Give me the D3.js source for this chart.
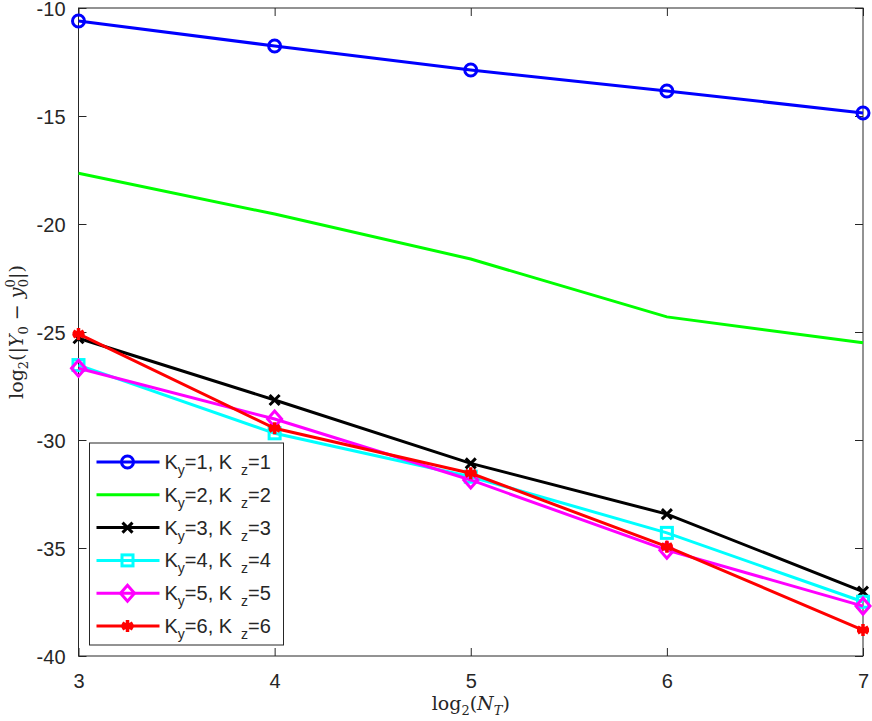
<!DOCTYPE html>
<meta charset="utf-8">
<style>
body { margin: 0; background: #fff; }
svg text { fill: #262626; }
.sans { font-family: "Liberation Sans", Arial, sans-serif; }
.tex { font-family: "DejaVu Serif", "Liberation Serif", serif; }
.axis path, .axis line { stroke: #262626; stroke-width: 1; }
.axis text { font-family: "Liberation Sans", Arial, sans-serif; font-size: 20px; }
.line { fill: none; stroke-width: 3; }
</style>
<body></body>
<script src="https://d3js.org/d3.v7.min.js"></script>
<script>
// x values: log2(N_T)
var xs = [3, 4, 5, 6, 7];
var seriesNames = ["1", "2", "3", "4", "5", "6"];
var seriesColors = ["#0000ff", "#00ff00", "#000000", "#00ffff", "#ff00ff", "#ff0000"];
var seriesMarkers = ["circle", "none", "x", "square", "diamond", "asterisk"];
var k1 = [-10.6, -11.76, -12.87, -13.84, -14.86];
var k2 = [-17.65, -19.54, -21.62, -24.3, -25.5];
var k3 = [-25.29, -28.15, -31.08, -33.43, -37.02];
var k4 = [-26.53, -29.69, -31.7, -34.3, -37.49];
var k5 = [-26.68, -29.03, -31.85, -35.1, -37.69];
var k6 = [-25.09, -29.46, -31.54, -34.94, -38.8];
var allSeries = [k1, k2, k3, k4, k5, k6];
var xTicks = [3, 4, 5, 6, 7];
var yTicks = [-10, -15, -20, -25, -30, -35, -40];

var W = 872, H = 721;
var margin = {top: 8, right: 9, bottom: 65, left: 78.5};
var w = W - margin.left - margin.right, h = H - margin.top - margin.bottom;

var svg = d3.select("body").append("svg").attr("width", W).attr("height", H);
var g = svg.append("g").attr("transform", "translate(" + margin.left + "," + margin.top + ")");

var x = d3.scaleLinear().domain([3, 7]).range([0, w]);
var y = d3.scaleLinear().domain([-40, -10]).range([h, 0]);
var fmt = function(d) { return String(d); }; // plain hyphen like MATLAB

// box + axes
g.append("rect").attr("width", w).attr("height", h).attr("fill", "none").attr("stroke", "#262626");
g.append("g").attr("class", "axis").attr("transform", "translate(0," + h + ")")
  .call(d3.axisBottom(x).tickValues(xTicks).tickSize(-8).tickPadding(18).tickFormat(fmt))
  .call(function(a) { a.select(".domain").remove(); });
g.append("g").attr("class", "axis")
  .call(d3.axisTop(x).tickValues(xTicks).tickSize(-8).tickFormat(""))
  .call(function(a) { a.select(".domain").remove(); });
g.append("g").attr("class", "axis")
  .call(d3.axisLeft(y).tickValues(yTicks).tickSize(-8).tickPadding(13).tickFormat(fmt))
  .call(function(a) { a.select(".domain").remove(); a.selectAll("text").attr("dy", "0.36em"); });
g.append("g").attr("class", "axis").attr("transform", "translate(" + w + ",0)")
  .call(d3.axisRight(y).tickValues(yTicks).tickSize(-8).tickFormat(""))
  .call(function(a) { a.select(".domain").remove(); });

function drawMarker(sel, type, color) {
  if (type == "circle") sel.append("circle").attr("r", 6).attr("fill", "none").attr("stroke", color).attr("stroke-width", 3);
  else if (type == "square") sel.append("rect").attr("x", -5.5).attr("y", -5.5).attr("width", 11).attr("height", 11).attr("fill", "none").attr("stroke", color).attr("stroke-width", 3);
  else if (type == "diamond") sel.append("path").attr("d", "M0,-8L7,0L0,8L-7,0Z").attr("fill", "none").attr("stroke", color).attr("stroke-width", 3);
  else if (type == "x") sel.append("path").attr("d", "M-5,-5L5,5M-5,5L5,-5").attr("stroke", color).attr("stroke-width", 3);
  else if (type == "asterisk") sel.append("path").attr("d", "M0,-6L0,6M-5.2,-3L5.2,3M-5.2,3L5.2,-3M-6,0L6,0").attr("stroke", color).attr("stroke-width", 3.5);
}

var line = d3.line().x(function(d) { return x(d.x); }).y(function(d) { return y(d.y); });

allSeries.forEach(function(vals, i) {
  var pts = xs.map(function(xv, j) { return {x: xv, y: vals[j]}; });
  g.append("path").datum(pts).attr("class", "line").attr("stroke", seriesColors[i]).attr("d", line);
  pts.forEach(function(p) {
    var m = g.append("g").attr("transform", "translate(" + x(p.x) + "," + y(p.y) + ")");
    drawMarker(m, seriesMarkers[i], seriesColors[i]);
  });
});

// legend
var leg = svg.append("g").attr("transform", "translate(89.5,443)");
leg.append("rect").attr("width", 194).attr("height", 202).attr("fill", "#fff").attr("stroke", "#262626");
seriesNames.forEach(function(n, i) {
  var ly = 19 + i * 32.8;
  var e = leg.append("g").attr("transform", "translate(0," + ly + ")");
  e.append("line").attr("x1", 7).attr("x2", 70).attr("stroke", seriesColors[i]).attr("stroke-width", 3);
  var m = e.append("g").attr("transform", "translate(38,0)");
  drawMarker(m, seriesMarkers[i], seriesColors[i]);
  var t = e.append("text").attr("class", "sans").attr("x", 75).attr("y", 7).attr("font-size", 20);
  t.append("tspan").text("K");
  t.append("tspan").attr("dy", 6).attr("font-size", 14).text("y");
  t.append("tspan").attr("dy", -6).text("=" + n + ", K");
  t.append("tspan").attr("dx", 9).attr("dy", 6).attr("font-size", 14).text("z");
  t.append("tspan").attr("dy", -6).text("=" + n);
});

// axis labels (LaTeX-like)
var xl = svg.append("text").attr("class", "tex").attr("x", margin.left + w / 2).attr("y", 710).attr("text-anchor", "middle")
  .attr("font-size", 19);
xl.append("tspan").text("log");
xl.append("tspan").attr("dy", 5).attr("font-size", 13).text("2");
xl.append("tspan").attr("dy", -5).text("(");
xl.append("tspan").attr("font-style", "italic").text("N");
xl.append("tspan").attr("dy", 5).attr("font-size", 13).attr("font-style", "italic").text("T");
xl.append("tspan").attr("dy", -5).text(")");

var yl = svg.append("text").attr("class", "tex").attr("transform", "translate(23," + (margin.top + h / 2) + ") rotate(-90)")
  .attr("text-anchor", "middle").attr("font-size", 19);
yl.append("tspan").text("log");
yl.append("tspan").attr("dy", 5).attr("font-size", 13).text("2");
yl.append("tspan").attr("dy", -5).text("(|");
yl.append("tspan").attr("font-style", "italic").text("Y");
yl.append("tspan").attr("dy", 5).attr("font-size", 13).text("0");
yl.append("tspan").attr("dy", -5).text(" − ");
yl.append("tspan").attr("font-style", "italic").text("y");
yl.append("tspan").attr("dy", -8).attr("font-size", 13).text("0");
yl.append("tspan").attr("dx", -8).attr("dy", 13).attr("font-size", 13).text("0");
yl.append("tspan").attr("dy", -5).text("|)");
</script>
